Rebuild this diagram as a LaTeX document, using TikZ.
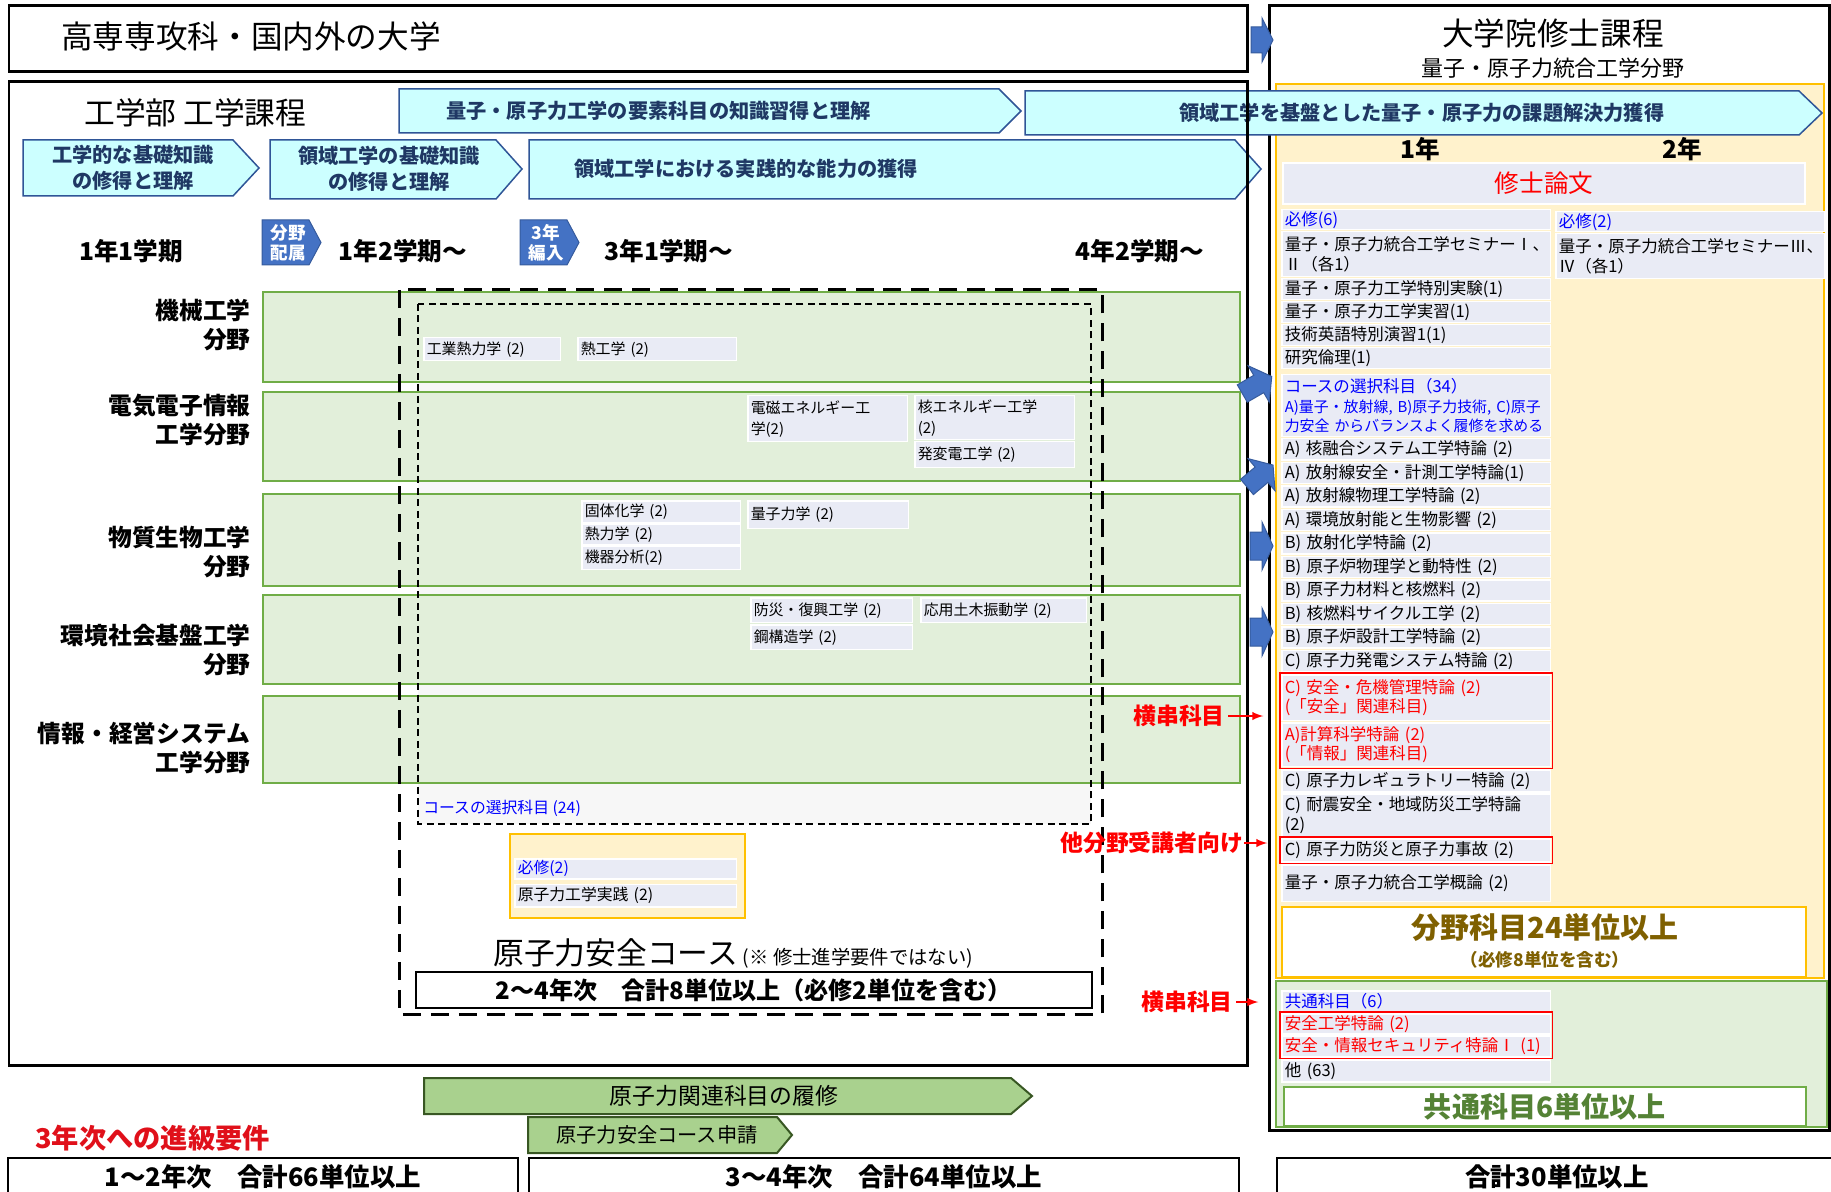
\documentclass[tikz,border=0pt]{standalone}
\usepackage{fontspec}
\setmainfont{Noto Sans CJK JP}
\usetikzlibrary{positioning,fit}

\definecolor{cyanfill}{HTML}{CCFFFF}
\definecolor{arrowline}{HTML}{2F5597}
\definecolor{navytext}{HTML}{1F3864}
\definecolor{rowgreen}{HTML}{E2EFDA}
\definecolor{rowline}{HTML}{70AD47}
\definecolor{itemgray}{HTML}{E9EBF5}
\definecolor{innergray}{HTML}{F7F7F7}
\definecolor{panelyellow}{HTML}{FFF2CC}
\definecolor{panelorange}{HTML}{FFC000}
\definecolor{blockblue}{HTML}{4472C4}
\definecolor{olivetext}{HTML}{7F6000}
\definecolor{greentext}{HTML}{548235}
\definecolor{greenarrow}{HTML}{A9D18E}
\definecolor{greenline}{HTML}{385723}
\definecolor{reqblue}{HTML}{0000FF}
\definecolor{promored}{HTML}{E0101A}

\tikzset{
  outerframe/.style={draw=black, line width=0.06cm},
  goalarrow/.style={draw=arrowline, fill=cyanfill, line width=0.03cm},
  goaltext/.style={text=navytext, font=\bfseries\fontsize{11.5}{14.5}\selectfont, align=center, inner sep=0},
  chevron/.style={draw=blockblue!80!black, fill=blockblue, line width=0.02cm},
  chevtext/.style={text=white, font=\bfseries\fontsize{10}{11.5}\selectfont, align=center, inner sep=0},
  blockarrow/.style={fill=blockblue, draw=blockblue!80!black, line width=0.02cm},
  term/.style={font=\bfseries\fontsize{14}{16}\selectfont, inner sep=0},
  fieldrow/.style={draw=rowline, fill=rowgreen, line width=0.04cm, anchor=north west, minimum width=19.54cm, inner sep=0},
  fieldname/.style={font=\bfseries\fontsize{13.5}{16.5}\selectfont, align=right, anchor=east, inner sep=0},
  litem/.style={fill=itemgray, draw=white, line width=0.03cm, anchor=north west, align=left, inner xsep=0.06cm, inner ysep=0pt, font=\fontsize{8.5}{12}\selectfont},
  ritem/.style={fill=itemgray, draw=white, line width=0.03cm, anchor=north west, text width=5.26cm, align=left, inner xsep=0.06cm, inner ysep=0pt, font=\fontsize{9.4}{11.2}\selectfont},
  redframe/.style={draw=red, line width=0.03cm, inner sep=0.02cm},
  redlabel/.style={text=red, font=\bfseries\fontsize{13}{15}\selectfont, inner sep=0},
  redarrow/.style={draw=red, line width=0.04cm, -latex},
  total/.style={draw=black, line width=0.04cm, fill=white, font=\bfseries\fontsize{14.5}{17}\selectfont},
  pathbar/.style={draw=greenline, fill=greenarrow, line width=0.04cm},
}

\begin{document}
\begin{tikzpicture}[x=0.02cm, y=-0.02cm]
  \useasboundingbox (0,0) rectangle (1831,1192);

  % graduate school frame
  \draw[outerframe] (1269,6) rectangle (1829,1130);
  \node[font=\fontsize{18}{20}\selectfont, inner sep=0] (gradTitle) at (1553,33) {大学院修士課程};
  \node[font=\fontsize{12.5}{14}\selectfont, inner sep=0] (gradField) at (1553,68) {量子・原子力統合工学分野};
  \draw[draw=panelorange, fill=panelyellow, line width=0.03cm] (1276,84) rectangle (1824,978);
  \draw[draw=rowline, fill=rowgreen, line width=0.03cm] (1276,981) rectangle (1827,1127);

  % entry box
  \draw[outerframe] (9,6) rectangle (1247,72);
  \node[font=\fontsize{18}{20}\selectfont, anchor=west, inner sep=0] (kosen) at (61,36) {高専専攻科・国内外の大学};

  % goals
  \draw[goalarrow] (399,89) -- (999,89) -- (1021,111) -- (999,133) -- (399,133) -- cycle;
  \node[goaltext, anchor=west] (goalElem) at (446,111) {量子・原子力工学の要素科目の知識習得と理解};
  \draw[goalarrow] (1025,91) -- (1799,91) -- (1822,113) -- (1799,135) -- (1025,135) -- cycle;
  \node[goaltext, anchor=west] (goalSolve) at (1179,113) {領域工学を基盤とした量子・原子力の課題解決力獲得};
  \draw[goalarrow] (23,140) -- (233,140) -- (259,168) -- (233,196) -- (23,196) -- cycle;
  \node[goaltext] (goalBasic) at (133,168) {工学的な基礎知識\\の修得と理解};
  \draw[goalarrow] (270,140) -- (496,140) -- (522,169) -- (496,199) -- (270,199) -- cycle;
  \node[goaltext] (goalField) at (389,169) {領域工学の基礎知識\\の修得と理解};
  \draw[goalarrow] (529,140) -- (1235,140) -- (1261,169) -- (1235,199) -- (529,199) -- cycle;
  \node[goaltext, anchor=west] (goalPract) at (574,169) {領域工学における実践的な能力の獲得};

  \node[font=\fontsize{17.5}{20}\selectfont, anchor=west, inner sep=0] (faculty) at (84,113) {工学部 工学課程};

  % terms
  \draw[chevron] (262,220) -- (309,220) -- (321,242.5) -- (309,265) -- (262,265) -- cycle;
  \node[chevtext] (assign) at (288,243) {分野\\配属};
  \draw[chevron] (520,220) -- (567,220) -- (579,242.5) -- (567,265) -- (520,265) -- cycle;
  \node[chevtext] (transfer) at (546,243) {3年\\編入};
  \node[term] (t11) at (131,251) {1年1学期};
  \node[term] (t12) at (403,251) {1年2学期～};
  \node[term] (t31) at (669,251) {3年1学期～};
  \node[term] (t42) at (1140,251) {4年2学期～};

  % fields
  \fill[innergray] (418,304) rectangle (1091,824);
  \node[fieldrow, minimum height=1.8cm] (rowMech) at (262,291) {};
  \node[fieldrow, minimum height=1.78cm] (rowElec) at (262,391) {};
  \node[fieldrow, minimum height=1.84cm] (rowChem) at (262,493) {};
  \node[fieldrow, minimum height=1.78cm] (rowCivil) at (262,594) {};
  \node[fieldrow, minimum height=1.74cm] (rowInfo) at (262,695) {};
  \node[fieldname] (nameMech) at (251,325) {機械工学\\分野};
  \node[fieldname] (nameElec) at (251,420) {電気電子情報\\工学分野};
  \node[fieldname] (nameChem) at (251,552) {物質生物工学\\分野};
  \node[fieldname] (nameCivil) at (251,650) {環境社会基盤工学\\分野};
  \node[fieldname] (nameInfo) at (251,748) {情報・経営システム\\工学分野};

  \node[litem, text width=2.62cm, minimum height=0.46cm] (cThermoInd) at (423,337) {工業熱力学 (2)};
  \node[litem, text width=3.06cm, minimum height=0.46cm] (cHeat) at (577,337) {熱工学 (2)};
  \node[litem, text width=3.08cm, minimum height=0.92cm] (cEmag) at (747,395) {電磁エネルギー工\\学(2)};
  \node[litem, text width=3.08cm, minimum height=0.88cm] (cNucE) at (914,395) {核エネルギー工学\\(2)};
  \node[litem, text width=3.08cm, minimum height=0.52cm] (cPower) at (914,441) {発変電工学 (2)};
  \node[litem, text width=3.06cm, minimum height=0.44cm] (cSolid) at (581,500) {固体化学 (2)};
  \node[litem, text width=3.06cm, minimum height=0.42cm] (cThermo) at (581,523) {熱力学 (2)};
  \node[litem, text width=3.06cm, minimum height=0.48cm] (cInstr) at (581,545) {機器分析(2)};
  \node[litem, text width=3.1cm, minimum height=0.56cm] (cQuant) at (747,500) {量子力学 (2)};
  \node[litem, text width=3.12cm, minimum height=0.5cm] (cDisaster) at (750,597) {防災・復興工学 (2)};
  \node[litem, text width=3.12cm, minimum height=0.5cm] (cSteel) at (750,624) {鋼構造学 (2)};
  \node[litem, text width=3.2cm, minimum height=0.5cm] (cVibr) at (920,597) {応用土木振動学 (2)};
  \node[text=reqblue, font=\fontsize{9}{11}\selectfont, anchor=west, inner sep=0] (electives24) at (423,808) {コースの選択科目 (24)};

  % nuclear safety course
  \node[draw=panelorange, fill=panelyellow, line width=0.04cm, anchor=north west, minimum width=4.7cm, minimum height=1.68cm] (safetyBox) at (509,833) {};
  \node[litem, text width=4.32cm, minimum height=0.4cm, text=reqblue, font=\fontsize{9}{11}\selectfont] (reqTwo) at (514,858) {必修(2)};
  \node[litem, text width=4.32cm, minimum height=0.46cm, font=\fontsize{9}{11}\selectfont, below=0.08cm of reqTwo] (practice) {原子力工学実践 (2)};
  \draw[dash pattern=on 0.14cm off 0.09cm, line width=0.025cm] (418,304) rectangle (1091,824);
  \draw[dash pattern=on 0.36cm off 0.2cm, line width=0.06cm] (399,290) rectangle (1102,1014);
  \node[anchor=west, inner sep=0] (courseTitle) at (493,953) {\fontsize{17.5}{20}\selectfont 原子力安全コース\,\fontsize{11}{13}\selectfont (※ 修士進学要件ではない)};
  \node[total, anchor=north west, minimum width=13.52cm, minimum height=0.72cm, font=\bfseries\fontsize{13.7}{16}\selectfont] (courseTotal) at (415,971) {2～4年次　合計8単位以上（必修2単位を含む）};

  \draw[outerframe] (9,82) rectangle (1247,1065);

  % master course subjects
  \node[term] (year1) at (1420,149) {1年};
  \node[term] (year2) at (1682,149) {2年};
  \node[fill=itemgray, draw=white, line width=0.03cm, minimum width=10.44cm, minimum height=0.82cm, text=red, font=\fontsize{14}{16}\selectfont] (thesis) at (1544,183.5) {修士論文};

  \node[ritem, minimum height=0.4cm, text=reqblue] (r1) at (1281,209) {必修(6)};
  \node[ritem, minimum height=0.9cm] (r2) at (1281,231) {量子・原子力統合工学セミナーⅠ、\\Ⅱ（各1）};
  \node[ritem, minimum height=0.42cm] (r3) at (1281,278) {量子・原子力工学特別実験(1)};
  \node[ritem, minimum height=0.42cm] (r4) at (1281,301) {量子・原子力工学実習(1)};
  \node[ritem, minimum height=0.42cm] (r5) at (1281,324) {技術英語特別演習1(1)};
  \node[ritem, minimum height=0.42cm] (r6) at (1281,347) {研究倫理(1)};
  \node[ritem, minimum height=1.24cm, text=reqblue, font=\fontsize{8.5}{11}\selectfont] (r7) at (1281,374) {{\fontsize{9.4}{11}\selectfont コースの選択科目（34）}\\A)量子・放射線, B)原子力技術, C)原子\\力安全~からバランスよく履修を求める};
  \node[ritem, minimum height=0.43cm] (r8) at (1281,438) {A) 核融合システム工学特論 (2)};
  \node[ritem, minimum height=0.43cm] (r9) at (1281,461.5) {A) 放射線安全・計測工学特論(1)};
  \node[ritem, minimum height=0.43cm] (r10) at (1281,485) {A) 放射線物理工学特論 (2)};
  \node[ritem, minimum height=0.43cm] (r11) at (1281,508.5) {A) 環境放射能と生物影響 (2)};
  \node[ritem, minimum height=0.43cm] (r12) at (1281,532) {B) 放射化学特論 (2)};
  \node[ritem, minimum height=0.43cm] (r13) at (1281,555.5) {B) 原子炉物理学と動特性 (2)};
  \node[ritem, minimum height=0.43cm] (r14) at (1281,579) {B) 原子力材料と核燃料 (2)};
  \node[ritem, minimum height=0.43cm] (r15) at (1281,602.5) {B) 核燃料サイクル工学 (2)};
  \node[ritem, minimum height=0.43cm] (r16) at (1281,626) {B) 原子炉設計工学特論 (2)};
  \node[ritem, minimum height=0.43cm] (r17) at (1281,649.5) {C) 原子力発電システム特論 (2)};
  \node[ritem, minimum height=0.92cm, text=red] (r18) at (1281,674) {C) 安全・危機管理特論 (2)\\(「安全」関連科目)};
  \node[ritem, minimum height=0.88cm, text=red] (r19) at (1281,722) {A)計算科学特論 (2)\\(「情報」関連科目)};
  \node[ritem, minimum height=0.44cm] (r20) at (1281,769) {C) 原子力レギュラトリー特論 (2)};
  \node[ritem, minimum height=0.86cm] (r21) at (1281,793) {C) 耐震安全・地域防災工学特論\\(2)};
  \node[ritem, minimum height=0.46cm] (r22) at (1281,838) {C) 原子力防災と原子力事故 (2)};
  \node[ritem, minimum height=0.74cm] (r23) at (1281,864) {量子・原子力統合工学概論 (2)};

  \node[ritem, minimum height=0.4cm, text=reqblue] (q1) at (1555,211) {必修(2)};
  \node[ritem, minimum height=0.9cm] (q2) at (1555,233) {量子・原子力統合工学セミナーⅢ、\\Ⅳ（各1）};

  \node[redframe, fit=(r18)(r19)] (redA) {};
  \node[redframe, fit=(r22)] (redB) {};

  \node[draw=panelorange, fill=white, line width=0.04cm, anchor=north west, minimum width=10.48cm, minimum height=1.4cm] (fieldCredit) at (1281,906) {};
  \node[text=olivetext, font=\bfseries\fontsize{16.5}{19}\selectfont, inner sep=0] (fieldCreditText) at (1545,928) {分野科目24単位以上};
  \node[text=olivetext, font=\bfseries\fontsize{10}{12}\selectfont, inner sep=0] (fieldCreditNote) at (1545,960) {（必修8単位を含む）};

  \node[ritem, minimum height=0.42cm, text=reqblue] (c1) at (1281,990) {共通科目（6）};
  \node[ritem, minimum height=0.4cm, text=red] (c2) at (1281,1013) {安全工学特論 (2)};
  \node[ritem, minimum height=0.42cm, text=red] (c3) at (1281,1035) {安全・情報セキュリティ特論Ⅰ (1)};
  \node[ritem, minimum height=0.44cm] (c4) at (1281,1059) {他 (63)};
  \node[redframe, fit=(c2)(c3)] (redC) {};
  \node[draw=rowline, fill=white, line width=0.04cm, anchor=north west, minimum width=10.44cm, minimum height=0.74cm, text=greentext, font=\bfseries\fontsize{16}{18}\selectfont] (commonCredit) at (1283,1086) {共通科目6単位以上};

  % links between the programmes
  \draw[blockarrow, shift={(1262,40)}] (-11,-13) -- (0,-13) -- (0,-22) -- (11,0) -- (0,22) -- (0,13) -- (-11,13) -- cycle;
  \draw[blockarrow, shift={(1257,385)}, rotate=30] (-17,-10) -- (2,-10) -- (2,-21) -- (17,0) -- (2,21) -- (2,10) -- (-17,10) -- cycle;
  \draw[blockarrow, shift={(1260,476)}, rotate=40] (-17,-10) -- (2,-10) -- (2,-21) -- (17,0) -- (2,21) -- (2,10) -- (-17,10) -- cycle;
  \draw[blockarrow, shift={(1262,546)}] (-12,-14) -- (0,-14) -- (0,-24) -- (11,0) -- (0,24) -- (0,14) -- (-12,14) -- cycle;
  \draw[blockarrow, shift={(1262,632)}] (-12,-14) -- (0,-14) -- (0,-24) -- (11,0) -- (0,24) -- (0,14) -- (-12,14) -- cycle;

  \node[redlabel, anchor=west] (crossA) at (1133,716) {横串科目};
  \node[redlabel, anchor=west] (otherField) at (1060,843) {他分野受講者向け};
  \node[redlabel, anchor=west] (crossB) at (1141,1002) {横串科目};
  \draw[redarrow, shorten <=0.06cm, shorten >=0.32cm] (crossA.east) -- (crossA.east -| redA.west);
  \draw[redarrow, shorten <=0.02cm, shorten >=0.24cm] (otherField.east) -- (otherField.east -| redB.west);
  \draw[redarrow, shorten <=0.06cm, shorten >=0.42cm] (crossB.east) -- (crossB.east -| redC.west);

  % requirements
  \draw[pathbar] (424,1078) -- (1011,1078) -- (1032,1096) -- (1011,1114) -- (424,1114) -- cycle;
  \node[font=\fontsize{13}{15}\selectfont, inner sep=0] (nucStudy) at (724,1096) {原子力関連科目の履修};
  \draw[pathbar] (528,1117) -- (777,1117) -- (792,1135) -- (777,1153) -- (528,1153) -- cycle;
  \node[font=\fontsize{11.5}{13}\selectfont, inner sep=0] (courseApply) at (657,1135) {原子力安全コース申請};
  \node[text=promored, font=\bfseries\fontsize{15.5}{18}\selectfont, anchor=west, inner sep=0] (promotion) at (35,1138) {3年次への進級要件};

  \node[total, anchor=north west, minimum width=10.2cm, minimum height=0.76cm] (sum12) at (7,1157) {1～2年次　合計66単位以上};
  \node[total, anchor=north west, minimum width=14.2cm, minimum height=0.76cm] (sum34) at (528,1157) {3～4年次　合計64単位以上};
  \node[total, anchor=north west, minimum width=11.2cm, minimum height=0.76cm] (sumGrad) at (1276,1157) {合計30単位以上};
\end{tikzpicture}
\end{document}
